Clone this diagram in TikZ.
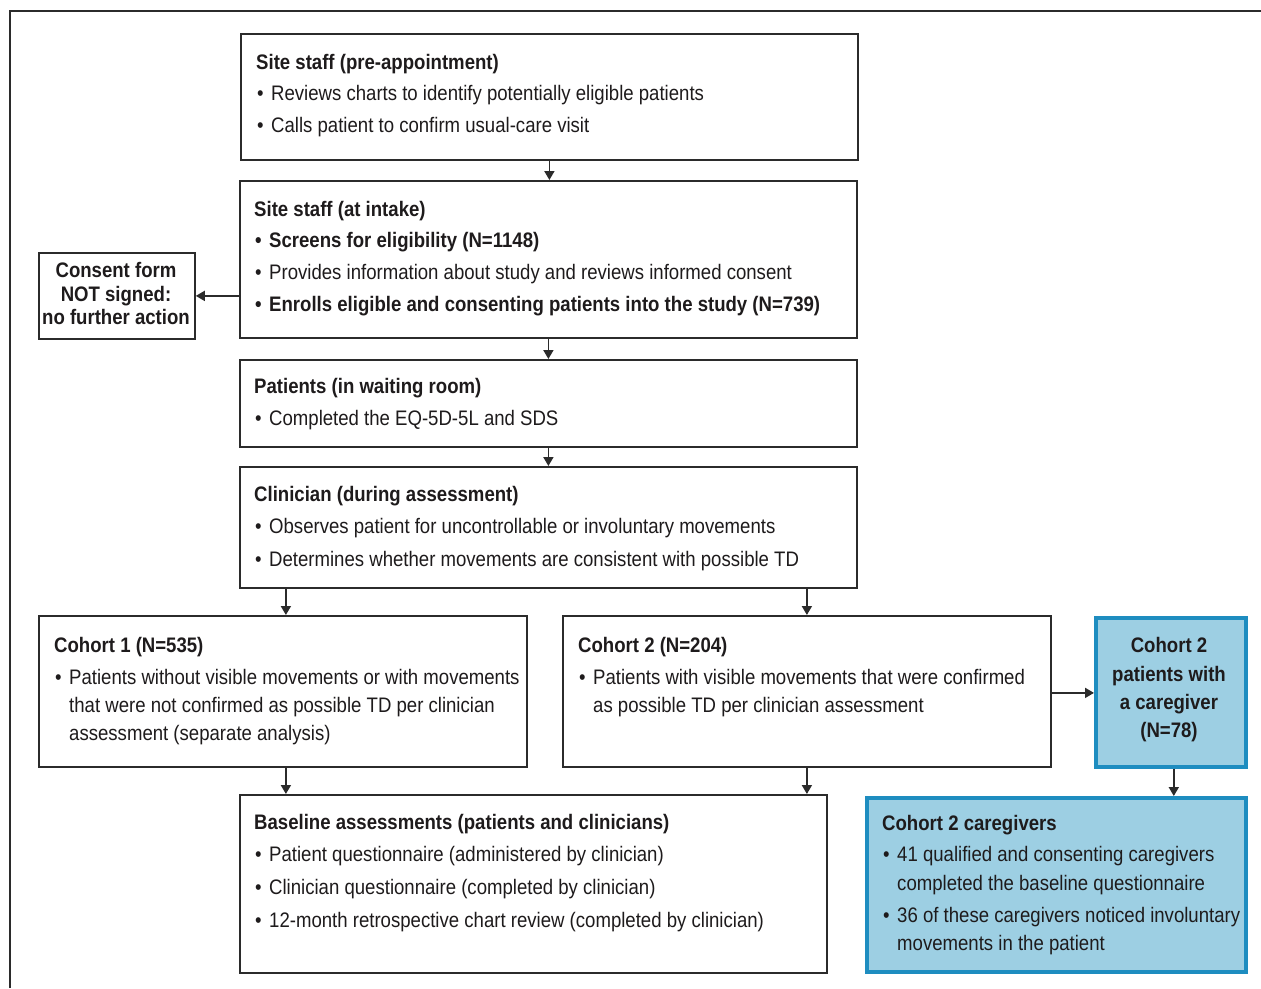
\documentclass[tikz,border=0pt]{standalone}
\usepackage{fontspec}
\setmainfont{Liberation Sans}[FakeStretch=0.885]
\usetikzlibrary{arrows.meta}
\definecolor{boxc}{HTML}{2B2B2B}
\definecolor{txtc}{HTML}{1E1B1C}
\definecolor{bluefill}{HTML}{9DCFE3}
\definecolor{blueline}{HTML}{1E8DC0}
\newcommand\bul{\makebox[14pt][l]{\textbullet}}
\newcommand\fsz{\fontsize{21}{24}\selectfont}
\begin{document}
\begin{tikzpicture}[x=1pt,y=-1pt,
  box/.style={draw=boxc, line width=1.8pt, fill=white, inner sep=0pt, anchor=north west},
  bluebox/.style={draw=blueline, line width=3.6pt, fill=bluefill, inner sep=0pt, anchor=north west},
  txt/.style={anchor=base west, inner sep=0pt, font=\fsz, text=txtc},
  ttl/.style={txt, font=\fsz\bfseries},
  ctr/.style={anchor=base, inner sep=0pt, font=\fsz\bfseries, text=txtc},
  arr/.style={draw=boxc, line width=1.8pt, -{Triangle[length=9pt,width=10pt]}}]
\useasboundingbox (0,0) rectangle (1261,988);
\draw[boxc, line width=1.5pt] (10,988) -- (10,11) -- (1261,11);

% boxes
\node[box, minimum width=617pt, minimum height=126pt] (b1) at (240,33) {};
\node[box, minimum width=617pt, minimum height=157pt] (b2) at (239,180) {};
\node[box, minimum width=156pt, minimum height=86pt] (cons) at (38,252) {};
\node[box, minimum width=617pt, minimum height=87pt] (b4) at (239,359) {};
\node[box, minimum width=617pt, minimum height=121pt] (b5) at (239,466) {};
\node[box, minimum width=488pt, minimum height=151pt] (c1) at (38,615) {};
\node[box, minimum width=488pt, minimum height=151pt] (c2) at (562,615) {};
\node[bluebox, minimum width=150pt, minimum height=149pt] (bl1) at (1094,616) {};
\node[box, minimum width=587pt, minimum height=178pt] (base) at (239,794) {};
\node[bluebox, minimum width=379pt, minimum height=174pt] (bl2) at (865,796) {};

% box 1
\node[ttl] (t1) at (256,69.5) {Site staff (pre-appointment)};
\node[txt] (t1a) at (257,100) {\bul Reviews charts to identify potentially eligible patients};
\node[txt] (t1b) at (257,132.5) {\bul Calls patient to confirm usual-care visit};
% box 2
\node[ttl] (t2) at (254,216.5) {Site staff (at intake)};
\node[ttl] (t2a) at (255,247.5) {\bul Screens for eligibility (N=1148)};
\node[txt] (t2b) at (255,279) {\bul Provides information about study and reviews informed consent};
\node[ttl] (t2c) at (255,311.5) {\bul Enrolls eligible and consenting patients into the study (N=739)};
% consent
\node[ctr] (tc1) at (116,277.5) {Consent form};
\node[ctr] (tc2) at (116,301.5) {NOT signed:};
\node[ctr] (tc3) at (116,324.5) {no further action};
% box 4
\node[ttl] (t4) at (254,393.5) {Patients (in waiting room)};
\node[txt] (t4a) at (255,425) {\bul Completed the EQ-5D-5L and SDS};
% box 5
\node[ttl] (t5) at (254,501.5) {Clinician (during assessment)};
\node[txt] (t5a) at (255,533) {\bul Observes patient for uncontrollable or involuntary movements};
\node[txt] (t5b) at (255,566) {\bul Determines whether movements are consistent with possible TD};
% cohort 1
\node[ttl] (tk1) at (54,652.5) {Cohort 1 (N=535)};
\node[txt] (tk1a) at (55,684) {\bul Patients without visible movements or with movements};
\node[txt] (tk1b) at (69,712) {that were not confirmed as possible TD per clinician};
\node[txt] (tk1c) at (69,740) {assessment (separate analysis)};
% cohort 2
\node[ttl] (tk2) at (578,652.5) {Cohort 2 (N=204)};
\node[txt] (tk2a) at (579,684) {\bul Patients with visible movements that were confirmed};
\node[txt] (tk2b) at (593,712) {as possible TD per clinician assessment};
% blue 1
\node[ctr] (tb1) at (1169,652) {Cohort 2};
\node[ctr] (tb2) at (1169,681) {patients with};
\node[ctr] (tb3) at (1169,709) {a caregiver};
\node[ctr] (tb4) at (1169,737) {(N=78)};
% baseline
\node[ttl] (tba) at (254,829.5) {Baseline assessments (patients and clinicians)};
\node[txt] (tbaa) at (255,861) {\bul Patient questionnaire (administered by clinician)};
\node[txt] (tbab) at (255,894) {\bul Clinician questionnaire (completed by clinician)};
\node[txt] (tbac) at (255,927) {\bul 12-month retrospective chart review (completed by clinician)};
% blue 2
\node[ttl] (tg) at (882,830) {Cohort 2 caregivers};
\node[txt] (tga) at (883,861.5) {\bul 41 qualified and consenting caregivers};
\node[txt] (tgb) at (897,890) {completed the baseline questionnaire};
\node[txt] (tgc) at (883,922) {\bul 36 of these caregivers noticed involuntary};
\node[txt] (tgd) at (897,950) {movements in the patient};

% connectors
\draw[arr] (b1.south) -- (b1.south |- b2.north);
\draw[arr] (b2.west |- cons.east) -- (cons.east);
\draw[arr] (b2.south) -- (b4.north);
\draw[arr] (b4.south) -- (b5.north);
\draw[arr] ([xshift=3pt]b5.south -| c1.north) -- ([xshift=3pt]c1.north);
\draw[arr] (b5.south -| c2.north) -- (c2.north);
\draw[arr] ([xshift=3pt]c1.south) -- ([xshift=3pt]c1.south |- base.north);
\draw[arr] (c2.south) -- (c2.south |- base.north);
\draw[arr] ([yshift=-1.5pt]c2.east) -- ([yshift=-1.5pt]c2.east -| bl1.west);
\draw[arr] ([xshift=3pt]bl1.south) -- ([xshift=3pt]bl1.south |- bl2.north);
\end{tikzpicture}
\end{document}
